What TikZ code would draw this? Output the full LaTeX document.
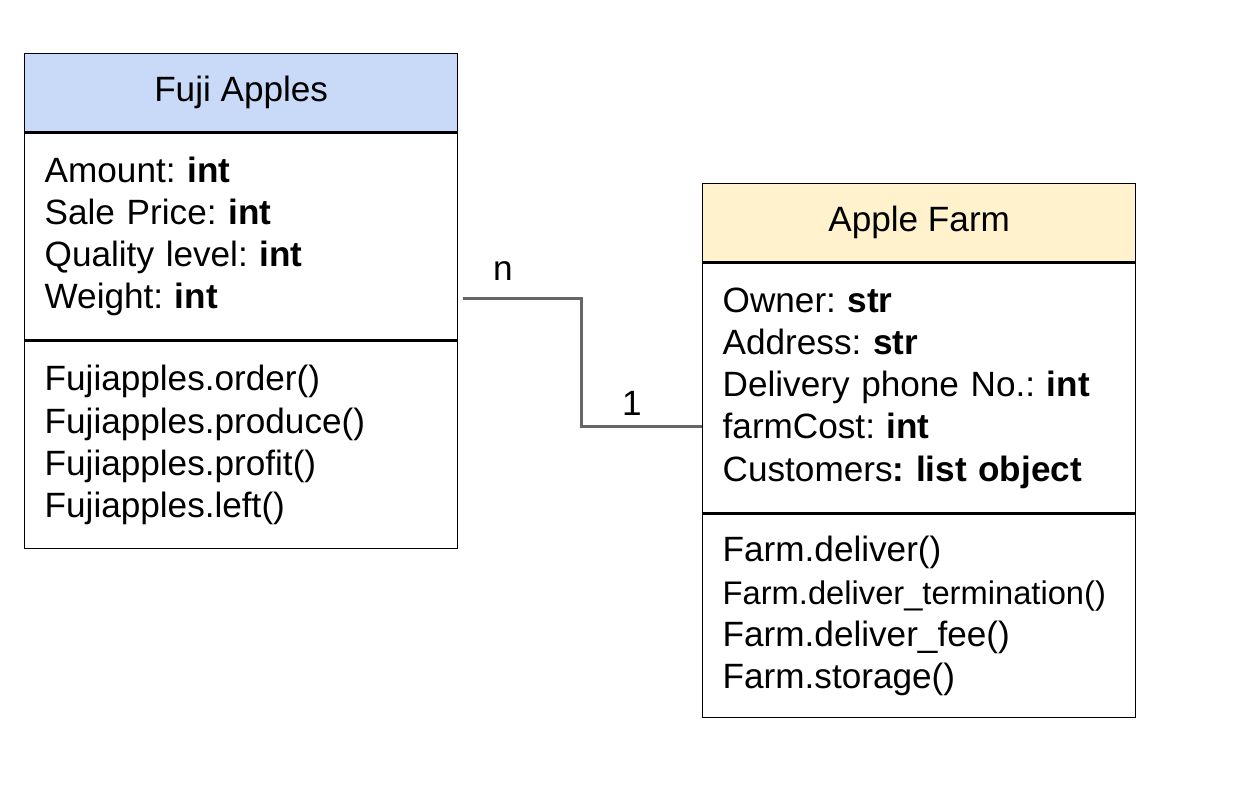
\documentclass[tikz,border=0pt]{standalone}
\usepackage{fontspec}
\setmainfont{Liberation Sans}
\frenchspacing
\usetikzlibrary{positioning, calc}
\definecolor{headblue}{HTML}{C9DAF8}
\definecolor{headyellow}{HTML}{FFF2CC}
\definecolor{linkgrey}{HTML}{666666}

\begin{document}
\begin{tikzpicture}[
    classhead/.style={draw, line width=0.8pt, minimum width=8.66cm, minimum height=1.56cm, inner sep=0pt, font=\fontsize{20}{24}\selectfont},
    classpart/.style={draw, line width=0.8pt, text width=7.86cm, inner xsep=0.4cm, inner ysep=0pt, align=left, font=\fontsize{20}{24}\selectfont},
    lbl/.style={font=\fontsize{20}{24}\selectfont}
  ]
    \useasboundingbox (0,0) rectangle (25.16,-16.2);
    % Fuji Apples class
    \node[classhead, fill=headblue, anchor=north west] (fujihead) at (0.48,-1.06) {Fuji Apples};
    \node[classpart, minimum height=4.14cm, below=0pt of fujihead] (fujiattr) {Amount: \textbf{int}\\Sale Price: \textbf{int}\\Quality level: \textbf{int}\\Weight: \textbf{int}};
    \node[classpart, minimum height=4.14cm, below=0pt of fujiattr] (fujimeth) {Fujiapples.order()\\Fujiapples.produce()\\Fujiapples.profit()\\Fujiapples.left()};
    % Apple Farm class
    \node[classhead, fill=headyellow, anchor=north west] (farmhead) at (14.04,-3.66) {Apple Farm};
    \node[classpart, minimum height=5.0cm, below=0pt of farmhead] (farmattr) {Owner: \textbf{str}\\Address: \textbf{str}\\Delivery phone No.: \textbf{int}\\farmCost: \textbf{int}\\Customers\textbf{: list object}};
    \node[classpart, minimum height=4.06cm, below=0pt of farmattr] (farmmeth) {Farm.deliver()\\{\fontsize{18.6}{24}\selectfont Farm.deliver\_termination()}\\Farm.deliver\_fee()\\Farm.storage()};
    % association
    \coordinate (nend) at ($(fujiattr.east)+(0.1,-1.24)$);
    \coordinate (oneend) at ($(farmattr.west)+(0,-0.76)$);
    \draw[linkgrey, line width=1.7pt] (nend) -- ++(2.36,0) |- (oneend);
    \node[lbl] (nlbl) at (10.06,-5.42) {n};
    \node[lbl] (onelbl) at (12.64,-8.06) {1};
\end{tikzpicture}
\end{document}
